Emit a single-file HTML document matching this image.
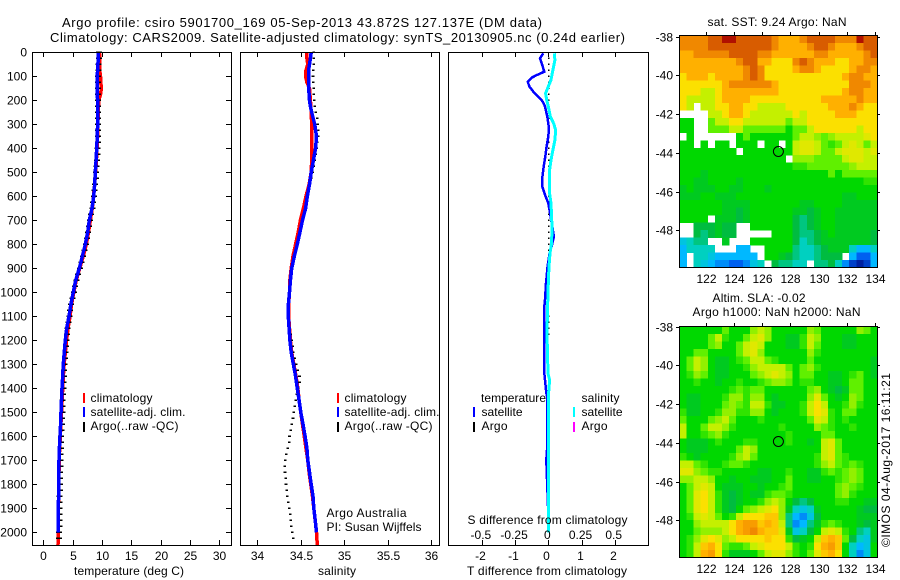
<!DOCTYPE html>
<html lang="en">
<head>
<meta charset="utf-8">
<title>Argo profile chart</title>
<style>
html,body{margin:0;padding:0;background:#fff;}
svg{display:block;font-family:"Liberation Sans",sans-serif;}
text{fill:#000;font-size:12px;}
.title{font-size:13px;}
</style>
</head>
<body>
<svg id="chart" xmlns="http://www.w3.org/2000/svg" width="900" height="580" viewBox="0 0 900 580">
  <rect x="0" y="0" width="900" height="580" fill="#fff"/>
  <g id="marks"></g>
  <text class="title" x="62" y="27" textLength="480">Argo profile: csiro 5901700_169 05-Sep-2013 43.872S 127.137E (DM data)</text>
  <text class="title" x="50" y="42" textLength="575">Climatology: CARS2009. Satellite-adjusted climatology: synTS_20130905.nc (0.24d earlier)</text>

  <text x="74" y="575" textLength="110">temperature (deg C)</text>
  <text x="318" y="575" textLength="38">salinity</text>
  <text x="467" y="575" textLength="160">T difference from climatology</text>
  <text x="467.5" y="524" textLength="160">S difference from climatology</text>

  <rect x="83" y="393" width="2" height="10" fill="#f00"/>
  <rect x="83" y="407" width="2" height="10" fill="#00f"/>
  <rect x="83" y="422" width="2" height="10" fill="#000"/>
  <text x="90.5" y="402" textLength="62">climatology</text>
  <text x="90.5" y="416" textLength="95">satellite-adj. clim.</text>
  <text x="90.5" y="430" textLength="88">Argo(..raw -QC)</text>

  <rect x="337" y="393" width="2" height="10" fill="#f00"/>
  <rect x="337" y="407" width="2" height="10" fill="#00f"/>
  <rect x="337" y="422" width="2" height="10" fill="#000"/>
  <text x="344.5" y="402" textLength="62">climatology</text>
  <text x="344.5" y="416" textLength="95">satellite-adj. clim.</text>
  <text x="344.5" y="430" textLength="88">Argo(..raw -QC)</text>
  <text x="326.5" y="517" textLength="80">Argo Australia</text>
  <text x="326.5" y="531" textLength="95">PI: Susan Wijffels</text>

  <text x="481" y="402" textLength="65">temperature</text>
  <rect x="473" y="407" width="2" height="10" fill="#00f"/>
  <rect x="473" y="422" width="2" height="10" fill="#000"/>
  <text x="481.5" y="416" textLength="41">satellite</text>
  <text x="481.5" y="430" textLength="26">Argo</text>
  <text x="581.5" y="402" textLength="38">salinity</text>
  <rect x="573" y="407" width="2" height="10" fill="#0ff"/>
  <rect x="573" y="422" width="2" height="10" fill="#f0f"/>
  <text x="581.5" y="416" textLength="41">satellite</text>
  <text x="581.5" y="430" textLength="26">Argo</text>

  <text x="707.5" y="26" textLength="139">sat. SST: 9.24  Argo: NaN</text>
  <text x="712.5" y="302" textLength="93">Altim. SLA: -0.02</text>
  <text x="692.5" y="316" textLength="168">Argo h1000: NaN h2000: NaN</text>
  <text transform="translate(890 547) rotate(-90)" x="0" y="0" textLength="174">©IMOS 04-Aug-2017 16:11:21</text>
</svg>
<script>
const N = null;

// Depth axis and panel ticks
const depthTicks = [0,100,200,300,400,500,600,700,800,900,1000,1100,1200,1300,1400,1500,1600,1700,1800,1900,2000];
const tempTicks = [0,5,10,15,20,25,30];
const salTicks = [34,34.5,35,35.5,36];
const salTickLabels = ['34','34.5','35','35.5','36'];
const tDiffTicks = [-2,-1,0,1,2];
const tDiffTickLabels = ['-2','-1','0','1','2'];
const sDiffTicks = [-0.5,-0.25,0,0.25,0.5];
const sDiffTickLabels = ['-0.5','-0.25','0','0.25','0.5'];

// Satellite-adjusted climatology profile
const profileDepths = [0,25,50,75,100,125,150,175,200,225,250,300,350,400,450,500,550,600,650,700,750,800,850,900,950,1000,1050,1100,1150,1200,1250,1300,1350,1400,1450,1500,1550,1600,1650,1700,1750,1800,1850,1900,1950,2000];
const tempSatellite = [9.37,9.37,9.3,9.25,9.2,9.2,9.2,9.2,9.25,9.25,9.25,9.25,9.2,9.1,9.0,8.86,8.75,8.58,8.3,7.84,7.56,7.16,6.65,6.14,5.52,5.11,4.7,4.38,3.99,3.75,3.58,3.41,3.3,3.19,3.1,3.02,2.95,2.85,2.75,2.67,2.65,2.62,2.6,2.56,2.53,2.5];
const salSatellite = [34.62,34.61,34.6,34.59,34.59,34.59,34.59,34.595,34.6,34.61,34.625,34.66,34.68,34.67,34.645,34.62,34.6,34.575,34.555,34.52,34.49,34.46,34.425,34.395,34.38,34.37,34.358,34.356,34.365,34.375,34.39,34.415,34.44,34.46,34.48,34.5,34.525,34.55,34.57,34.58,34.6,34.62,34.64,34.65,34.665,34.68];

// Climatology profile
const climDepths = [0,25,50,75,100,125,150,175,200,225,250,300,350,400,450,500,550,600,650,700,750,800,850,900,950,1000,1050,1100,1150,1200,1250,1300,1350,1400,1450,1500,1550,1600,1650,1700,1750,1800,1850,1900,1950,2000,2054];
const tempClim = [9.55,9.65,9.6,9.6,9.75,9.8,9.9,9.75,9.45,9.4,9.35,9.3,9.25,9.15,9.05,8.9,8.75,8.55,8.35,8.0,7.7,7.3,6.8,6.2,5.6,5.2,4.8,4.55,4.2,3.95,3.75,3.55,3.4,3.3,3.2,3.1,3.0,2.9,2.8,2.7,2.67,2.64,2.6,2.58,2.55,2.52,2.5];
const salClim = [34.57,34.57,34.58,34.56,34.555,34.57,34.6,34.605,34.61,34.615,34.62,34.625,34.625,34.625,34.625,34.62,34.595,34.56,34.53,34.495,34.47,34.44,34.41,34.39,34.375,34.37,34.36,34.36,34.37,34.38,34.395,34.42,34.445,34.465,34.48,34.5,34.52,34.54,34.56,34.58,34.595,34.615,34.635,34.65,34.665,34.68,34.69];

// Argo profile points
const argoDepths = [0,25,50,75,100,125,150,175,200,225,250,275,300,325,350,375,400,425,450,475,500,525,550,575,600,625,650,675,700,725,750,775,800,825,850,875,900,925,950,975,1000,1025,1050,1075,1100,1125,1150,1175,1200,1225,1250,1275,1300,1325,1350,1375,1400,1425,1450,1475,1500,1525,1550,1575,1600,1625,1650,1675,1700,1725,1750,1775,1800,1825,1850,1875,1900,1925,1950,1975,2000,2025];
const argoTemp = [9.45,9.45,9.4,9.4,9.35,9.35,9.35,9.35,9.35,9.35,9.35,9.35,9.35,9.35,9.3,9.3,9.25,9.2,9.15,9.1,9.0,8.95,8.85,8.75,8.65,8.5,8.4,8.15,7.95,7.8,7.65,7.45,7.25,7.0,6.75,6.5,6.25,5.95,5.65,5.4,5.2,4.95,4.75,4.55,4.45,4.3,4.15,4.05,3.95,3.85,3.8,3.7,3.6,3.55,3.5,3.45,3.4,3.35,3.3,3.3,3.25,3.2,3.15,3.1,3.05,3.05,3.0,2.95,2.9,2.9,2.85,2.85,2.85,2.85,2.8,2.8,2.8,2.75,2.75,2.75,2.7,2.7];
const argoSal = [34.65,34.65,34.65,34.645,34.64,34.645,34.65,34.65,34.655,34.66,34.67,34.69,34.695,34.7,34.7,34.69,34.685,34.67,34.66,34.65,34.635,34.62,34.605,34.59,34.58,34.565,34.55,34.535,34.52,34.505,34.49,34.475,34.46,34.445,34.43,34.415,34.4,34.39,34.38,34.375,34.37,34.365,34.36,34.36,34.36,34.365,34.375,34.385,34.395,34.405,34.415,34.43,34.445,34.465,34.485,34.485,34.47,34.455,34.44,34.43,34.42,34.41,34.395,34.385,34.37,34.365,34.35,34.335,34.32,34.315,34.318,34.325,34.33,34.338,34.345,34.358,34.368,34.378,34.383,34.39,34.4,34.415];

// Difference panel series
const tDiffDepths = [4,25,46,81,95,104,122,143,164,185,205,226,268,317,351,393,434,476,532,560,594,628,670,726,767,809,837,892,962,1031,1074,1324,1365,1420,1434,1657,1699,2000];
const tDiffSatellite = [-0.15,-0.25,-0.2,-0.12,-0.35,-0.48,-0.62,-0.57,-0.45,-0.3,-0.17,-0.1,-0.03,0.02,0,-0.05,-0.09,-0.14,-0.19,-0.18,-0.1,0,0.05,0.12,0.17,0.1,0.04,-0.02,-0.07,-0.1,-0.13,-0.13,-0.1,-0.06,-0.04,-0.04,-0.06,0.02];
const sDiffDepths = [4,32,74,115,143,171,199,226,268,296,324,365,407,449,490,532,587,629,726,795,837,892,962,1059,1171,1338,1365,1420,1726,1976,2000];
const sDiffSatellite = [0.045,0.05,0.035,0.02,0,-0.02,-0.012,0,0.015,0.04,0.056,0.05,0.035,0.02,0.01,0.008,0.01,0.02,0.028,0.025,0.013,0.005,0,-0.005,-0.01,-0.002,0.01,0.002,0,0,0];
const argoDiffDepths = [25,50,75,100,125,150,175,200,225,250,275,300,325,350,375,400,425,450,475,500,525,550,575,600,625,650,675,700,725,750,775,800,825,850,1100,1125,1150,1175];
const argoDiffValues = [0.01,0.01,0.01,0.01,0.01,0.01,0.01,0.01,0.01,0.01,0.01,0.01,0.01,0.01,0.01,0.01,0.01,0.01,0.01,0.01,0.01,0.01,0.01,0.01,0.01,0.01,0.01,0.01,0.01,0.01,0.01,0.01,0.01,0.01,0.01,0.01,0.01,0.01];

// Map axes
const lonTicks = [122,124,126,128,130,132,134];
const latTicks = [-38,-40,-42,-44,-46,-48];
const argoLon = [127.137];
const argoLat = [-43.93];

// Satellite SST, colour-scale levels (null = no data)
const sstLevels = [
[10,10,10,10,11,11,12,12,11,11,11,11,11,10,9,9,9,10,11,11,11,11,10,10,10,12,11,11],
[10,10,10,10,11,11,11,11,11,11,11,11,11,10,9,9,9,9,10,11,11,10,9,9,9,10,11,11],
[9,9,10,10,10,10,10,11,11,11,11,10,10,9,9,9,9,9,9,10,10,9,9,9,9,9,10,11],
[9,9,9,9,9,9,9,9,10,11,11,9,9,8,8,8,10,11,10,9,9,9,8,8,9,9,10,10],
[9,9,9,9,9,9,9,9,9,10,11,10,8,8,8,8,9,10,10,9,8,8,8,8,9,10,10,9],
[8,9,9,9,8,9,9,9,9,10,11,10,8,8,8,8,8,8,8,8,8,8,8,9,10,10,9,9],
[8,8,8,8,8,8,9,10,10,10,10,10,10,9,8,8,8,8,8,8,8,8,8,8,10,10,10,9],
[8,8,8,7,7,8,9,9,9,9,9,9,9,9,8,8,8,8,8,8,8,8,8,9,10,10,9,9],
[8,7,7,7,7,8,9,9,9,9,8,8,8,8,8,8,8,8,8,8,9,9,9,9,9,10,9,9],
[8,7,N,7,7,8,8,9,9,8,8,7,7,7,7,8,8,8,8,8,8,9,9,9,10,9,8,8],
[N,N,N,N,7,7,8,9,9,8,7,7,7,7,7,7,8,7,8,8,8,8,9,9,9,8,8,8],
[5,5,N,N,6,7,7,8,8,7,7,7,7,7,7,6,7,7,8,8,8,8,8,8,8,8,8,8],
[5,5,N,N,6,6,6,7,7,6,6,6,6,6,6,5,6,6,7,8,8,8,8,8,8,7,8,8],
[N,5,N,N,N,N,N,N,5,6,5,5,5,5,5,5,6,7,7,6.5,6,6.5,7,7,7,7,7.5,8],
[5,5,N,5,N,5,5,N,5,5,5,N,5,5,N,5,7,7.5,7.5,7,6,5.5,6,7,7.5,7,6,7],
[5,5,5,5,5,5,5,5,N,5,5,5,5,5,5,5,7,7.5,7.5,7,6,6,7,7.5,7.5,7.5,7,7.5],
[5,5,5,5,5,5,5,5,5,5,5,5,5,5,5,N,6.5,6.5,6.5,6,6,6,6,7,7.5,7.5,7,7],
[5,5,5,5,5,5,5,5,5,5,5,5,5,5,5,5,5.5,5.5,6,6,6,6,6,6,6.5,7,7,7],
[5,5,5,4.5,5,5,5,5,5,5,5,5,5,5,5,5,5,5,5,5,5,6,5,6,6,6,6,6],
[5,5,4.5,4.5,5,5,5,5,4.5,5,5,5,5,5,5,5,5,5,5,5,5,5,5,5,5,5,5.5,5.5],
[4.5,5,4.5,4.5,4.5,5,5,4.5,4.5,5,5,5,4.5,5,5,5,5,5,5,5,5,5,5,5,5,5,5,5],
[4.5,4.5,4.5,5,5,4.5,4.5,4.5,5,5,5,5,5,5,5,5,5,5,5,5,5,5,5,4.5,4.5,5,5,5],
[5,5,5,5,5,5,4.5,4.5,4.5,4.5,5,5,5,5,5,5,5,4.5,4.5,5,5,5,5,4.5,4.5,4.5,4.5,4.5],
[5,5,5,5,5,5,4.5,4.5,4,4.5,5,5,5,5,5,5,4.5,4.5,4,4.5,5,5,4.5,4.5,4.5,4.5,4.5,4.5],
[5,5,5,5,N,4.5,4.5,4.5,4,4.5,5,5,5,5,5,5,4,3.5,4,4.5,5,5,4.5,4.5,4.5,4.5,4.5,4.5],
[N,N,4,4,4,4.5,4,4,N,N,5,5,5,5,5,5,4,3.5,4,4.5,5,5,4.5,4.5,4.5,4.5,4.5,4.5],
[N,N,4,3.5,4,4.5,4,4,N,N,N,N,N,5,5,5,4,3.5,3.5,4,4.5,5,4.5,4.5,4.5,4.5,4.5,4],
[2.5,3,3.5,3.5,N,N,4.5,N,N,N,5,5,5,5,5,5,4,3,3.5,4,4.5,4.5,4.5,4.5,4.5,4.5,4.5,4],
[2,3,3,3,3,N,N,N,2,2,N,N,5,5,5,5,3.5,3,3,3.5,4,4.5,4.5,4.5,3,2,2,3],
[2,N,3,3,2.5,2,2,2,2,2,2,N,5,5,4.5,4,3.5,3,3,3.5,4,4,4,N,2,1,1,2],
[2,N,3,2.5,2,1.5,1.5,1,1,1.5,2.5,3,N,4,3.5,3.5,3,3,N,3.5,3.5,4,3,1.5,0.5,0,0.5,2]
];

// Altimetry SLA, colour-scale levels
const slaLevels = [
[5,5,5,5,5,5,6,5,5,5,6.5,7,6.5,5,5,5,5,5,6.5,6,5,5,5,5,5,6.5,6,5],
[5,5,5,5,6,7,5.5,5,5,6,7,7.5,6.5,5,5,4.5,4.5,5.5,7,6.5,5,5,5,4.5,4.5,5,5,5],
[5,5,5,5,6,6.5,5,5,6,7,7.5,7,5,5,5,4.5,4.5,5.5,7,6,5,5,5,4.5,4.5,5,5,5],
[5,5,6,6,5,5,5,5,6,7,7.5,6.5,5,5,5,5,5,5,6.5,5.5,5,5,5,5,5,5,5,5],
[5,6,7,6.5,5,4.5,4.5,5,5.5,6,7,7,6,5.5,5,5,5,5,6,5,5,5,5,5,5,5,5,4.5],
[5,6,7,6.5,5,4.5,4.5,5,5,5.5,6.5,7,7,7,7,6,5,6,6.5,5.5,5,5,5,5,5,5,5,4.5],
[5,5.5,6.5,6,5,4.5,4.5,5,5,5,6,6.5,7,7.5,7,6.5,5,6,6,5,5,4.5,4.5,5,5.5,6,5,4.5],
[5,5,5.5,5,5,4.5,5,5,5.5,5,5,5.5,6,6.5,6.5,6,5,5.5,5.5,5,5,4.5,4.5,5,6,6,5,5],
[5,5,5,5,5,5,5,5.5,6,5.5,6,6,5,5,5,5,5,5,6,6.5,5,4.5,4,4.5,6,6,5,5],
[5,4.5,4.5,5,5,5,5.5,6.5,6.5,5.5,6.5,6.5,5,4.5,5,5,5,5,6.5,7.5,6,5,4.5,5,6.5,6,5,5],
[5,4.5,4.5,5,5,5,6,6.5,6,5.5,7,7,5.5,4.5,4.5,5,5,5.5,7,8,7,5,5,5.5,6.5,5.5,5,5],
[5.5,4.5,4.5,5,5,5.5,6.5,6.5,5.5,5.5,6.5,6.5,5,4.5,5,5,5,5.5,7,8,7.5,5.5,5,6,6,5,5,5],
[6,5,5,5,6,6.5,7,6,5,5,5,5.5,5,5,5,5,5,5,6,7.5,7,5.5,5,5.5,5,5,5,5],
[7,5,5,6,7,7,6.5,5.5,5,5,5,5,5,5,5.5,5,5,5,5,6.5,6,5.5,5,5,5.5,5,5,5],
[7,5,5,5.5,6,6.5,5.5,5,5,5,5,5,5,5,5,5.5,5,5,5,5,6,6,5,5,5,5,5,5],
[5,4.5,4.5,4.5,5,5.5,5,5,5,5.5,5.5,5,5,5,5,5.5,5,5,4.5,5,7,7.5,6,5,5,5,5,5],
[5,4.5,4.5,4.5,5,5,5,5,6,7,6.5,5,5,5,5,5,5,5,5,5,7,7.5,6,5,5,5,5,5],
[5.5,5,4.5,5,5,5,5,5.5,6.5,7,6,5,5,5,5,5,5,5,5,5.5,7,7.5,6,5.5,5,5,5,5],
[7,7,6,5.5,5,5,5.5,6,6,5.5,5,5,5,5,5,5,5,5,5,5.5,6.5,7,6,5.5,6,5.5,5,5],
[7.5,7.5,6.5,6,5.5,5.5,5,5,5,5,5,4.5,4.5,5,5,5.5,5,5,4.5,4.5,5.5,6,5.5,6,6.5,6,5,5],
[6.5,6.5,7,7,6.5,5,5,4.5,5,5,4.5,4.5,4.5,5,5,6,5,5,4.5,4.5,5,5,5.5,6,6.5,6,5,5],
[5,6,7,7.5,7,5,4.5,4.5,4.5,5,5,4.5,5,5,5.5,6,5,5,5,5,5,5,6,6.5,6,5.5,5,5],
[5,6,7.5,8,7,5.5,4.5,4,4.5,5,4.5,4.5,5.5,6,6,5.5,5,5,5,5,5,5,6,6.5,5.5,5,5,5],
[5,6,7.5,8,7,5.5,4.5,4,4.5,5,5,5.5,6.5,7,6.5,5,4,3.5,4,5,5,5,5.5,5.5,5,5,4.5,4.5],
[5,6,7.5,8,7,5.5,4.5,4,5,6,6.5,7,7.5,8,6.5,4.5,3,2.5,3,4.5,5,5,5,5,5,4.5,4,4],
[5,5.5,7,7.5,7,6,5,5.5,7,8,8,8,8.5,8.5,6.5,3.5,2,1.5,2.5,4,5,5,5,5,5,4.5,4.5,4.5],
[5,5,6.5,7,7,7,7,8,9,9.5,9.5,8.5,9,8.5,7,3.5,1.5,2,3.5,4.5,5.5,6,5.5,5,5,4.5,4,4.5],
[5,5,6,6.5,6.5,6.5,7,8,9,9.5,10,9,8.5,8.5,7.5,4.5,2.5,3,4,5,7,7.5,7,5.5,5,3.5,3,4.5],
[5,5.5,6.5,7.5,8,7.5,6.5,7,8,8,8,8,8.5,8,8,5.5,4,4.5,5,7,8.5,9,8.5,6,4,3,2.5,4.5],
[5,5.5,7,8.5,9,8,6,5.5,5.5,6,7,7.5,8,8,8,7,5.5,5,5.5,8,9,9.5,8.5,5,3,2,2.5,5],
[5,5.5,7,9,9.5,8,5.5,4.5,4.5,4.5,5,6,7,7.5,7.5,6.5,5.5,5,6,7.5,8.5,9,8,5,3,1.5,2.5,5]
];

const colorStops = ['#0020a0','#0060f0','#00b8ff','#00d0c0','#00bc40','#00d800','#60f000','#c4f000','#fbe000','#ffb000','#f08800','#d85c00','#b01000'];

const SVGNS = 'http://www.w3.org/2000/svg';
const root = document.getElementById('marks');

// Axis functions
const yDepth = d => 52.3 + d * 0.24;
const xTemp = t => 43.3 + t * 5.87;
const xSal = s => 257.3 + (s - 34) * 87;
const xTDiff = v => 548.3 + v * 33.2;
const xSDiff = v => 548.3 + v * 132.8;
const xLon = lon => 706.3 + (lon - 122) * 14.03;
const yLatTop = lat => 36.7 + (-38 - lat) * 19.36;
const yLatBottom = lat => 326.7 + (-38 - lat) * 19.36;

function shape(tag, attrs) {
  const el = document.createElementNS(SVGNS, tag);
  for (const k in attrs) el.setAttribute(k, attrs[k]);
  root.appendChild(el);
  return el;
}
function parseHex(h) {
  return [parseInt(h.slice(1, 3), 16), parseInt(h.slice(3, 5), 16), parseInt(h.slice(5, 7), 16)];
}
function levelColor(v) {
  const i = Math.max(0, Math.min(colorStops.length - 2, Math.floor(v)));
  const f = v - i;
  const a = parseHex(colorStops[i]);
  const b = parseHex(colorStops[i + 1]);
  return 'rgb(' + a.map((c, n) => Math.round(c + (b[n] - c) * f)).join(',') + ')';
}
function pointsOf(depths, values, xFn) {
  return values.map((v, i) => xFn(v).toFixed(1) + ',' + yDepth(depths[i]).toFixed(1)).join(' ');
}

function drawBox(name, x0, y0, x1, y1) {
  const box = shape('rect', {x: x0 + 0.5, y: y0 + 0.5, width: x1 - x0, height: y1 - y0, fill: 'none', stroke: '#000', 'stroke-width': 1, 'shape-rendering': 'crispEdges'});
  
  
}
function drawTickMark(name, x1, y1, x2, y2) {
  const t = shape('line', {x1: x1, y1: y1, x2: x2, y2: y2, stroke: '#000', 'stroke-width': 1, 'shape-rendering': 'crispEdges'});
  
  
}
function drawLabel(name, str, x, y, anchor) {
  const t = shape('text', {x: x, y: y, 'text-anchor': anchor});
  t.textContent = str;
  
  
}
function drawLine(name, depths, values, xFn, colour, width) {
  const p = shape('polyline', {points: pointsOf(depths, values, xFn), fill: 'none', stroke: colour, 'stroke-width': width, 'shape-rendering': 'crispEdges', 'stroke-linejoin': 'miter'});
  
  
}
function drawDots(name, depths, values, xFn, w, h) {
  values.forEach((v, i) => {
    const r = shape('rect', {x: (xFn(v) - w / 2).toFixed(1), y: (yDepth(depths[i]) - h / 2).toFixed(1), width: w, height: h, fill: '#000', 'shape-rendering': 'crispEdges'});
    
    
  });
}
function drawHeatmap(name, grid, x0, y0, w, h) {
  const rows = grid.length;
  const cols = grid[0].length;
  const cw = w / cols;
  const ch = h / rows;
  grid.forEach((row, j) => {
    row.forEach((v, i) => {
      if (v === null) return;
      const c = shape('rect', {x: (x0 + i * cw).toFixed(2), y: (y0 + j * ch).toFixed(2), width: (cw + 0.3).toFixed(2), height: (ch + 0.3).toFixed(2), fill: levelColor(v), 'shape-rendering': 'crispEdges'});
      
      
    });
  });
}

// Profile panels
const panelTop = 52;
const panelBottom = 545;

// Temperature panel
drawLine('temperature-climatology-line', climDepths, tempClim, xTemp, '#f00', 3.5);
drawDots('temperature-argo-point', argoDepths, argoTemp, xTemp, 6, 1.6);
drawLine('temperature-satellite-line', profileDepths, tempSatellite, xTemp, '#00f', 3.5);
drawBox('temperature-panel-frame', 32, panelTop, 231, panelBottom);
depthTicks.forEach(d => {
  const y = Math.round(yDepth(d)) + 0.5;
  drawTickMark('depth-tick-left', 32, y, 37, y);
  drawTickMark('depth-tick-right', 226, y, 231, y);
  drawLabel('depth-tick-label', String(d), 27, y + 4, 'end');
});
tempTicks.forEach(t => {
  const x = Math.round(xTemp(t)) + 0.5;
  drawTickMark('temperature-tick-top', x, panelTop, x, panelTop + 5);
  drawTickMark('temperature-tick-bottom', x, panelBottom - 5, x, panelBottom);
  drawLabel('temperature-tick-label', String(t), x, 560, 'middle');
});

// Salinity panel
drawLine('salinity-climatology-line', climDepths, salClim, xSal, '#f00', 3.5);
drawDots('salinity-argo-point', argoDepths, argoSal, xSal, 2.6, 1.6);
drawLine('salinity-satellite-line', profileDepths, salSatellite, xSal, '#00f', 3.5);
drawBox('salinity-panel-frame', 240, panelTop, 439, panelBottom);
salTicks.forEach((s, i) => {
  const x = Math.round(xSal(s)) + 0.5;
  drawTickMark('salinity-tick-top', x, panelTop, x, panelTop + 5);
  drawTickMark('salinity-tick-bottom', x, panelBottom - 5, x, panelBottom);
  drawLabel('salinity-tick-label', salTickLabels[i], x, 560, 'middle');
});

// Difference panel
drawDots('argo-difference-point', argoDiffDepths, argoDiffValues, xTDiff, 1.6, 1.6);
drawLine('temperature-difference-line', tDiffDepths, tDiffSatellite, xTDiff, '#00f', 2.5);
drawLine('salinity-difference-line', sDiffDepths, sDiffSatellite, xSDiff, '#0ff', 3);
drawBox('difference-panel-frame', 448, panelTop, 648, panelBottom);
tDiffTicks.forEach((v, i) => {
  const x = Math.round(xTDiff(v)) + 0.5;
  drawTickMark('t-difference-tick-top', x, panelTop, x, panelTop + 5);
  drawTickMark('t-difference-tick-bottom', x, panelBottom - 5, x, panelBottom);
  drawLabel('t-difference-tick-label', tDiffTickLabels[i], x - 2, 560, 'middle');
});
sDiffTicks.forEach((v, i) => {
  drawLabel('s-difference-tick-label', sDiffTickLabels[i], xSDiff(v) - 1, 539, 'middle');
});

// Map panels
function drawMap(prefix, grid, y0, y1, latFn) {
  drawHeatmap(prefix + '-cell', grid, 679.5, y0 + 0.5, 198, y1 - y0);
  drawBox(prefix + '-frame', 679, y0, 877, y1);
  lonTicks.forEach(lon => {
    const x = Math.round(xLon(lon)) + 0.5;
    drawTickMark(prefix + '-lon-tick', x, y0 - 3, x, y0);
    drawLabel(prefix + '-lon-label', String(lon), x, y1 + 16, 'middle');
  });
  latTicks.forEach(lat => {
    const y = Math.round(latFn(lat)) + 0.5;
    drawTickMark(prefix + '-lat-tick-left', 676, y, 679, y);
    drawTickMark(prefix + '-lat-tick-right', 877, y, 880, y);
    drawLabel(prefix + '-lat-label', String(lat), 673, y + 4, 'end');
  });
  argoLon.forEach((lon, i) => {
    const c = shape('circle', {cx: xLon(lon).toFixed(1), cy: latFn(argoLat[i]).toFixed(1), r: 5, fill: 'none', stroke: '#000', 'stroke-width': 1});
    
    
  });
}
drawMap('sst-map', sstLevels, 35, 267, yLatTop);
drawMap('altimetry-map', slaLevels, 326, 557, yLatBottom);
</script>
</body>
</html>
